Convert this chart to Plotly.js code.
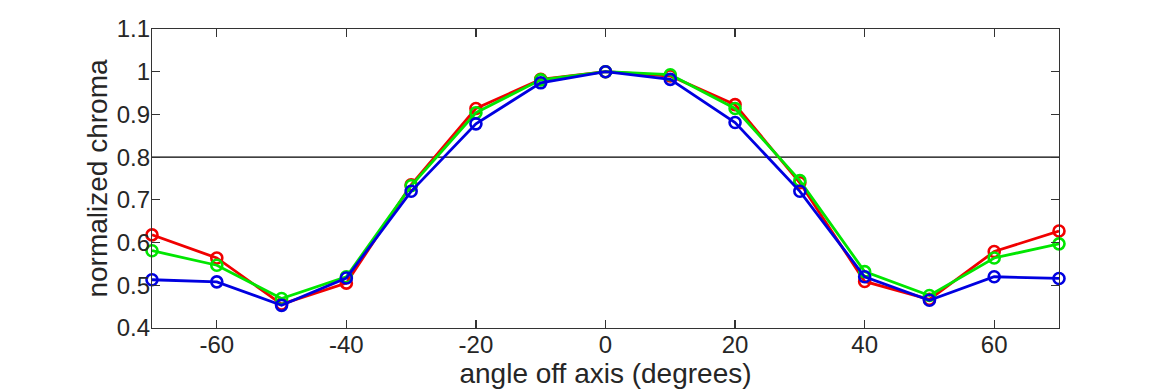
<!DOCTYPE html>
<html>
<head>
<script src="https://cdn.plot.ly/plotly-3.0.1.min.js"></script>
<style>html,body{margin:0;padding:0;background:#fff;}#chart{width:1170px;height:390px;}</style>
</head>
<body>
<div id="chart"></div>
<script>
const angles = [-70, -60, -50, -40, -30, -20, -10, 0, 10, 20, 30, 40, 50, 60, 70];
const redValues   = [0.618, 0.564, 0.456, 0.505, 0.735, 0.914, 0.982, 1.0, 0.990, 0.923, 0.740, 0.509, 0.467, 0.579, 0.627];
const greenValues = [0.581, 0.547, 0.469, 0.520, 0.733, 0.904, 0.981, 1.0, 0.993, 0.914, 0.745, 0.532, 0.476, 0.564, 0.597];
const blueValues  = [0.513, 0.508, 0.453, 0.517, 0.720, 0.878, 0.974, 1.0, 0.982, 0.881, 0.720, 0.520, 0.465, 0.520, 0.516];
const thresholdValue = 0.8;
const xTicks = [-60, -40, -20, 0, 20, 40, 60];
const yTicks = [0.4, 0.5, 0.6, 0.7, 0.8, 0.9, 1, 1.1];
const yTickLabels = ['0.4', '0.5', '0.6', '0.7', '0.8', '0.9', '1', '1.1'];

function series(vals, color) {
  return {
    x: angles, y: vals, type: 'scatter', mode: 'lines+markers',
    line: {color: color, width: 2.8},
    marker: {symbol: 'circle-open', size: 11, color: color, line: {width: 2.6, color: color}},
    showlegend: false, cliponaxis: false
  };
}
const data = [
  {x: [-70, 70], y: [thresholdValue, thresholdValue], type: 'scatter', mode: 'lines',
   line: {color: '#000', width: 1.4}, showlegend: false, hoverinfo: 'skip'},
  series(redValues, '#f00000'),
  series(greenValues, '#00e600'),
  series(blueValues, '#0000e0')
];
const font = {family: '"Liberation Sans", Arial, sans-serif', size: 24, color: '#262626'};
const layout = {
  width: 1170, height: 390,
  margin: {l: 152, r: 111, t: 29, b: 62},
  paper_bgcolor: '#fff', plot_bgcolor: '#fff',
  font: font,
  xaxis: {
    range: [-70, 70], tickvals: xTicks, ticktext: xTicks.map(String),
    ticks: 'inside', ticklen: 8, tickwidth: 1.2, tickcolor: '#333',
    showline: true, linecolor: '#333', linewidth: 1.2, mirror: 'ticks',
    showgrid: false, zeroline: false, ticklabelstandoff: -5,
    tickfont: {size: 24, color: '#262626'},
    title: {text: 'angle off axis (degrees)', font: {size: 28, color: '#262626'}, standoff: 6}
  },
  yaxis: {
    range: [0.4, 1.1], tickvals: yTicks, ticktext: yTickLabels,
    ticks: 'inside', ticklen: 8, tickwidth: 1.2, tickcolor: '#333',
    showline: true, linecolor: '#333', linewidth: 1.2, mirror: 'ticks',
    showgrid: false, zeroline: false, ticklabelstandoff: -4,
    tickfont: {size: 24, color: '#262626'},
    title: {text: 'normalized chroma', font: {size: 28, color: '#262626'}, standoff: 0}
  }
};
Plotly.newPlot('chart', data, layout, {staticPlot: true, displayModeBar: false});
</script>
</body>
</html>
